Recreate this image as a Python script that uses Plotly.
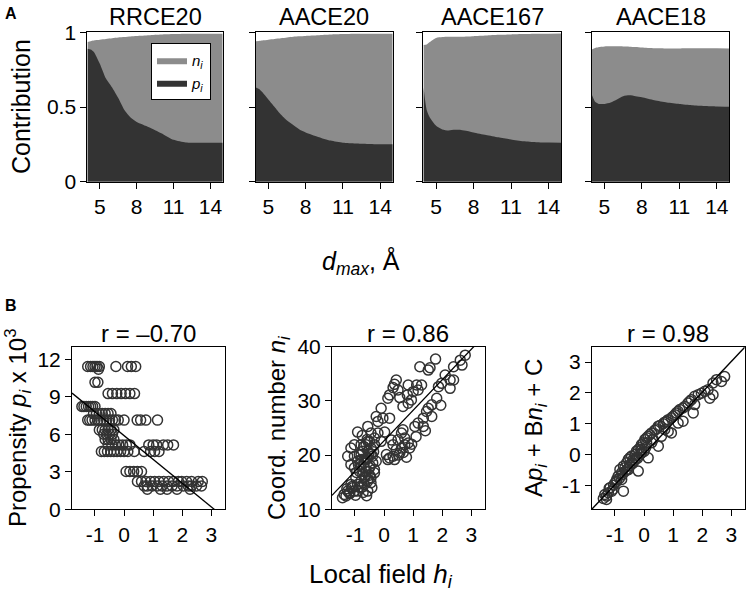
import plotly.graph_objects as go

W, H = 747, 603

# ---------------- Panel A data: stacked contributions vs d_max ----------------
panel_titles = ["RRCE20", "AACE20", "AACE167", "AACE18"]
dmax = [4, 4.25, 4.5, 5, 5.5, 6, 6.5, 7, 7.5, 8, 9, 10, 11, 12, 13, 14, 15]

p_rrce20 = [0.89, 0.885, 0.87, 0.79, 0.69, 0.63, 0.56, 0.48, 0.43, 0.40, 0.365, 0.325, 0.28, 0.262, 0.26, 0.26, 0.26]
tot_rrce20 = [0.935, 0.94, 0.945, 0.95, 0.955, 0.96, 0.965, 0.968, 0.972, 0.975, 0.98, 0.985, 0.988, 0.99, 0.99, 0.99, 0.99]

p_aace20 = [0.63, 0.62, 0.60, 0.55, 0.50, 0.45, 0.41, 0.38, 0.35, 0.33, 0.30, 0.275, 0.26, 0.255, 0.252, 0.25, 0.25]
tot_aace20 = [0.94, 0.942, 0.945, 0.95, 0.955, 0.96, 0.965, 0.97, 0.973, 0.976, 0.98, 0.985, 0.988, 0.99, 0.99, 0.99, 0.99]

p_aace167 = [0.63, 0.48, 0.43, 0.375, 0.35, 0.343, 0.347, 0.346, 0.34, 0.33, 0.313, 0.297, 0.283, 0.27, 0.264, 0.262, 0.261]
tot_aace167 = [0.915, 0.918, 0.935, 0.962, 0.968, 0.97, 0.97, 0.97, 0.972, 0.974, 0.978, 0.983, 0.986, 0.988, 0.99, 0.991, 0.992]

p_aace18 = [0.58, 0.535, 0.522, 0.52, 0.53, 0.55, 0.572, 0.578, 0.572, 0.565, 0.545, 0.53, 0.52, 0.512, 0.507, 0.504, 0.502]
tot_aace18 = [0.885, 0.895, 0.90, 0.905, 0.906, 0.906, 0.905, 0.904, 0.902, 0.898, 0.893, 0.892, 0.892, 0.893, 0.893, 0.893, 0.892]

p_series = [p_rrce20, p_aace20, p_aace167, p_aace18]
tot_series = [tot_rrce20, tot_aace20, tot_aace167, tot_aace18]

a_xticks = [5, 8, 11, 14]
a_yticks = [0, 0.5, 1]
a_yticklabels = ["0", "0.5", "1"]

# ---------------- Panel B data ----------------
prop_levels = [11.42, 11.2, 10.15, 9.25, 8.22, 7.65, 7.13, 6.35, 6.0, 5.58, 5.15, 4.62, 3.02, 2.22, 1.86, 1.6]
h_at_levels = [
    [-1.25, -1.15, -1.07, -1.0, -0.93, -0.85, -0.28, 0.12, 0.25, 0.4],
    [-0.88],
    [-1.0, -0.9],
    [-0.55, -0.4, -0.25, -0.1, 0.05, 0.2, 0.36],
    [-1.45, -1.38, -1.3, -1.22, -1.15, -1.08, -1.0],
    [-1.05, -0.95, -0.85, -0.75, -0.65, -0.55, -0.45],
    [-1.25, -1.18, -1.1, -1.0, -0.9, -0.8, -0.7, -0.6, -0.5, -0.4, -0.3, -0.2, 0.0, 0.45, 0.57, 0.75, 1.15],
    [-0.85, -0.75, -0.65, -0.55, -0.45, -0.35],
    [-0.7, -0.6, -0.5, -0.4],
    [-0.65, -0.55, -0.45, -0.35],
    [-0.55, -0.42, -0.3, -0.18, -0.05, 0.08, 0.2, 0.85, 1.0, 1.12, 1.35, 1.5, 1.7],
    [-0.78, -0.68, -0.57, -0.46, -0.35, -0.24, -0.12, 0.0, 0.13, 0.35, 0.69, 0.91, 1.05, 1.2],
    [0.07, 0.2, 0.33, 0.46, 0.6],
    [0.46, 0.6, 0.75, 0.91, 1.05, 1.2, 1.36, 1.53, 1.7, 1.87, 1.98, 2.15, 2.32, 2.55, 2.69],
    [0.69, 0.8, 0.97, 1.14, 1.31, 1.48, 1.65, 1.82, 2.04, 2.21, 2.32, 2.49, 2.66],
    [0.8, 1.25, 1.48, 1.82, 2.27],
]
fit_b1 = (-1.9, 5.89)   # slope, intercept

h_b2 = [1.23, 1.58, 1.77, 1.52, 0.42, 0.36, 0.31, 0.48, 0.83, 1.12, 1.29, 1.17, 1.00, 0.80, 0.54, 0.19, 0.13,
        0.94, 0.83, 0.65, -0.10, -0.27, -0.04, 0.19, -0.21, -0.56, -0.91, -0.45, -0.21, 0.02, -0.33, -0.10,
        -0.56, -0.79, -1.02, -1.14, -1.25, -1.02, -0.79, -0.56, -0.33,
        2.79, 2.62, 2.68, 2.39, 2.10, 1.98, 2.27, 2.39, 2.27, 1.87, 1.81, 1.64, 1.52, 1.46, 1.64, 1.35, 1.17,
        1.35, 1.06, 0.65, 0.60, 0.71, 0.83, 0.48, 0.31, 0.42, 0.54, 0.31, 0.19, 0.13, 0.36, 0.08, 0.71, 0.88, 0.60,
        -1.14, -1.02, -0.91, -0.79, -0.68, -0.56, -0.45, -0.85, -0.73, -0.62, -0.50, -0.33, -0.97, -0.91, -0.79,
        -0.68, -0.56, -0.45, -1.14, -1.25, -1.37, -1.43, -1.31, -1.20, -1.08, -1.02, -0.91, -0.79, -0.68, -0.56,
        -0.45, -0.33, -0.27, -0.39, -0.73, -0.62, -0.50, -0.85, -0.68, -0.79,
        -0.60, -0.52, -0.44, -0.70, -0.88, -0.95, -0.64, -0.48, -0.40, -0.58, -0.75, -0.66, -0.54, -0.36, -1.28,
        -1.18, -1.10, -0.98, -0.86, -0.72, -0.60, -0.50, -0.42, 0.25, 0.50, 0.66, 0.77, 0.95, 1.10, 1.42, 1.95]
n_b2 = [36.30, 36.12, 37.71, 35.69, 33.85, 33.06, 32.45, 32.02, 32.94, 32.94, 32.94, 32.02, 31.71, 31.10, 30.61, 31.10, 30.49,
        30.18, 29.57, 28.96, 28.65, 27.13, 26.82, 26.82, 26.21, 25.29, 24.25, 24.07, 24.07, 24.25, 23.15, 22.54,
        22.54, 21.93, 21.93, 21.31, 19.79, 19.79, 20.09, 20.70, 21.93,
        38.44, 37.52, 36.61, 36.30, 34.77, 33.24, 33.85, 33.85, 32.32, 32.63, 30.49, 29.27, 28.65, 28.04, 27.13, 26.82, 25.90,
        25.29, 25.29, 24.68, 24.07, 23.15, 22.23, 22.84, 21.93, 21.01, 20.40, 19.79, 19.48, 19.17, 19.17, 20.09, 21.93, 21.31, 21.31,
        18.26, 17.65, 18.87, 19.17, 18.56, 19.48, 20.09, 17.03, 16.42, 17.03, 17.65, 17.34, 15.81, 14.59, 15.20,
        14.59, 15.20, 15.81, 14.59, 13.36, 12.75, 12.14, 12.45, 13.06, 13.98, 13.36, 13.36, 13.98, 15.81, 13.36,
        14.89, 16.73, 18.87, 18.56, 20.70, 21.93, 22.54, 20.09, 17.65, 17.95,
        19.40, 20.30, 21.20, 21.60, 18.20, 16.80, 16.10, 18.00, 19.80, 22.90, 23.60, 19.20, 15.60, 20.60, 13.80,
        12.90, 14.20, 12.60, 14.10, 13.10, 12.50, 16.30, 14.00, 22.80, 20.00, 20.50, 19.60, 22.00, 23.40, 24.50, 29.20]
fit_b2 = (5.63, 22.64)

h_b3 = [-1.40, -1.29, -1.23, -1.11, -1.17, -1.00, -0.94, -0.89, -0.77, -0.83, -0.71, -0.66, -0.60, -0.54, -0.49,
        -0.43, -0.31, -0.26, -0.20, -0.14, -0.09, -0.03, 0.03, 0.09, 0.14, 0.20, 0.26, 0.37, 0.43, 0.49, 0.54,
        0.66, 0.71, 0.77, 0.83, 0.94, 1.00, 1.06, 1.11, 1.17, 1.23, 1.34, 1.40, 1.51, 1.57, 1.63, 1.74, 1.86,
        1.97, 2.09, 2.20, 2.37, 2.49, 2.66, 2.77, 2.37, 2.26, 1.69, 1.34, 0.94, 0.49, 0.14, -0.20, -0.71, -0.37,
        -0.09, 0.31, 0.71, 1.17, 1.74, 0.26, 0.60, 0.83, 0.09, -0.26, -0.54, -0.77, -1.06, -1.29, -0.43, -0.09,
        -1.35, -1.20, -1.05, -0.95, -0.85, -0.75, -0.65, -0.58, -0.50, -0.40, -0.33, -0.22, -0.12, 0.00, 0.05]
lin_b3 = [-1.43, -1.35, -1.24, -1.19, -1.08, -0.92, -0.81, -0.70, -0.59, -0.49, -0.38, -0.43, -0.27, -0.16, -0.11,
          -0.05, 0.00, 0.11, 0.16, 0.22, 0.32, 0.38, 0.49, 0.54, 0.59, 0.65, 0.70, 0.79, 0.83, 0.92, 0.94,
          1.00, 1.05, 1.08, 1.13, 1.19, 1.24, 1.29, 1.35, 1.40, 1.46, 1.51, 1.56, 1.67, 1.73, 1.78, 1.89, 1.94,
          1.99, 2.05, 2.10, 2.32, 2.43, 2.37, 2.53, 1.94, 1.83, 1.35, 1.08, 0.70, 0.27, -0.11, -0.54, -1.19, -0.16,
          0.05, 0.49, 0.81, 1.02, 1.62, 0.38, 0.59, 0.75, 0.38, -0.11, -0.49, -0.81, -1.13, -1.46, -0.27, 0.16,
          -1.30, -1.10, -1.00, -0.88, -0.78, -0.66, -0.55, -0.48, -0.36, -0.30, -0.20, -0.12, 0.02, 0.10, 0.22]
fit_b3 = (1.0, 0.02)

r_labels = ["r = \u20130.70", "r = 0.86", "r = 0.98"]
b_xticks = [-1, 0, 1, 2, 3]
b_xticklabels = ["-1", "0", "1", "2", "3"]
b_ranges_y = [[0, 13], [10, 40], [-1.78, 3.5]]
b_yticks = [[0, 3, 6, 9, 12], [10, 20, 30, 40], [-1, 0, 1, 2, 3]]
b_yticklabels = [["0", "3", "6", "9", "12"], ["10", "20", "30", "40"], ["-1", "0", "1", "2", "3"]]
b_range_x = [-1.79, 3.46]

# ---------------- styles / layout geometry ----------------
GRAY = "#8c8c8c"
DARK = "#333333"
FONT = "Liberation Sans, Arial, Helvetica, sans-serif"
TICKSIZE = 21

def fx(px):
    return px / W

def fy(py):
    return 1 - py / H

a_dom_x = [(87.3, 222.7), (255.7, 392.7), (423.3, 561.0), (591.7, 729.3)]
a_dom_y = (32.3, 181.7)
b_dom_x = [(72.0, 224.7), (332.0, 484.7), (592.0, 744.7)]
b_dom_y = (346.7, 509.3)

fig = go.Figure()
layout = dict(
    template="none",
    width=W, height=H, margin=dict(l=0, r=0, t=0, b=0, pad=0, autoexpand=False),
    paper_bgcolor="white", plot_bgcolor="white",
    font=dict(family=FONT, color="black", size=TICKSIZE),
    showlegend=True,
    legend=dict(x=fx(151), y=fy(43), xanchor="left", yanchor="top",
                bgcolor="white", bordercolor="black", borderwidth=1,
                font=dict(size=15), tracegroupgap=0, itemwidth=30),
)

def axis_common():
    return dict(showline=True, mirror=True, linecolor="black", linewidth=1,
                ticks="outside", ticklen=6, tickwidth=1, tickcolor="black", automargin=False,
                showgrid=False, zeroline=False, tickfont=dict(size=TICKSIZE, family=FONT))

for i in range(4):
    k = i + 1
    xs = "x" if k == 1 else f"x{k}"
    ys = "y" if k == 1 else f"y{k}"
    fig.add_trace(go.Scatter(x=dmax, y=tot_series[i], mode="lines", fill="tozeroy",
                             fillcolor=GRAY, line=dict(width=0, shape="spline", smoothing=0.6, color=GRAY),
                             name="<i>n<sub>i</sub></i>", showlegend=(i == 0), legendgroup="n",
                             xaxis=xs, yaxis=ys, hoverinfo="skip"))
    fig.add_trace(go.Scatter(x=dmax, y=p_series[i], mode="lines", fill="tozeroy",
                             fillcolor=DARK, line=dict(width=0, shape="spline", smoothing=0.6, color=DARK),
                             name="<i>p<sub>i</sub></i>", showlegend=(i == 0), legendgroup="p",
                             xaxis=xs, yaxis=ys, hoverinfo="skip"))
    xa = axis_common()
    xa.update(domain=[fx(a_dom_x[i][0]), fx(a_dom_x[i][1])], anchor=ys,
              range=[3.98, 15.0], tickvals=a_xticks, ticktext=[str(t) for t in a_xticks])
    ya = axis_common()
    ya.update(domain=[fy(a_dom_y[1]), fy(a_dom_y[0])], anchor=xs,
              range=[0, 1], tickvals=a_yticks, ticktext=a_yticklabels, showticklabels=(i == 0))
    layout["xaxis" if k == 1 else f"xaxis{k}"] = xa
    layout["yaxis" if k == 1 else f"yaxis{k}"] = ya

b1_h = [h for row in h_at_levels for h in row]
b1_p = [lvl for lvl, row in zip(prop_levels, h_at_levels) for _ in row]
b_points = [(b1_h, b1_p), (h_b2, n_b2), (h_b3, lin_b3)]
b_fits = [fit_b1, fit_b2, fit_b3]

for j in range(3):
    k = j + 5
    xs, ys = f"x{k}", f"y{k}"
    hx, vy = b_points[j]
    fig.add_trace(go.Scatter(x=hx, y=vy, mode="markers", showlegend=False,
                             marker=dict(symbol="circle-open", size=10, color=DARK, line=dict(width=1.5, color=DARK)),
                             xaxis=xs, yaxis=ys, hoverinfo="skip"))
    slope, icpt = b_fits[j]
    lx = [b_range_x[0], b_range_x[1]]
    fig.add_trace(go.Scatter(x=lx, y=[slope * v + icpt for v in lx], mode="lines", showlegend=False,
                             line=dict(color="black", width=1.3), xaxis=xs, yaxis=ys, hoverinfo="skip"))
    xa = axis_common()
    xa.update(domain=[fx(b_dom_x[j][0]), fx(b_dom_x[j][1])], anchor=ys,
              range=b_range_x, tickvals=b_xticks, ticktext=b_xticklabels)
    ya = axis_common()
    ya.update(domain=[fy(b_dom_y[1]), fy(b_dom_y[0])], anchor=xs,
              range=b_ranges_y[j], tickvals=b_yticks[j], ticktext=b_yticklabels[j])
    layout[f"xaxis{k}"] = xa
    layout[f"yaxis{k}"] = ya

ann = []
def add_text(text, px, py, size, angle=0, xanchor="center"):
    ann.append(dict(text=text, x=fx(px), y=fy(py), xref="paper", yref="paper",
                    showarrow=False, xanchor=xanchor, yanchor="middle", textangle=angle,
                    font=dict(size=size, family=FONT, color="black")))

add_text("<b>A</b>", 3, 13, 16, xanchor="left")
add_text("<b>B</b>", 3, 305, 16, xanchor="left")
for i, t in enumerate(panel_titles):
    add_text(t, (a_dom_x[i][0] + a_dom_x[i][1]) / 2, 17, 23.5)
add_text("Contribution", 21, 107, 25, angle=-90)
add_text("<i>d<sub>max</sub></i>, \u00c5", 361, 262, 25)
for j, t in enumerate(r_labels):
    add_text(t, (b_dom_x[j][0] + b_dom_x[j][1]) / 2, 333, 24)
add_text("Propensity <i>p<sub>i</sub></i> x 10<sup>3</sup>", 18, 428, 24, angle=-90)
add_text("Coord. number <i>n<sub>i</sub></i>", 278, 428, 24, angle=-90)
add_text("A<i>p<sub>i</sub></i> + B<i>n<sub>i</sub></i> + C", 535, 428, 24, angle=-90)
add_text("Local field <i>h<sub>i</sub></i>", 381, 575, 26)
layout["annotations"] = ann

fig.update_layout(**layout)
fig.write_html("out.html", config={"displayModeBar": False, "staticPlot": True},
               post_script="document.body.style.margin='0px';document.body.style.padding='0px';")
